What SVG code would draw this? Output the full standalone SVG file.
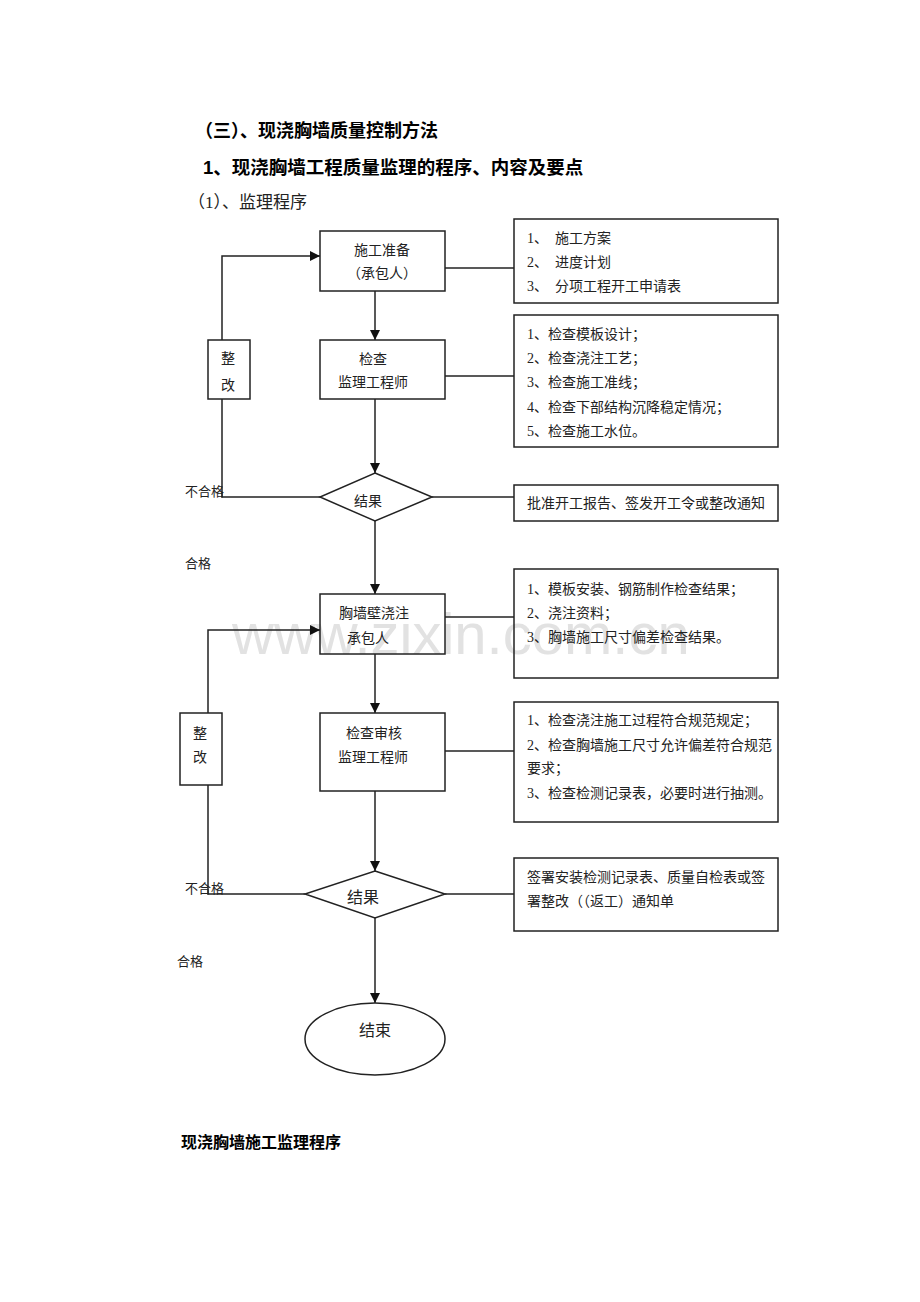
<svg xmlns="http://www.w3.org/2000/svg" width="920" height="1302" viewBox="0 0 920 1302">
<style>
.t{font-family:"Liberation Serif","Noto Sans CJK SC",serif;font-size:14px;fill:#222}
.s13{font-size:13px}
.s16{font-size:16px}
.s17{font-size:17px}
.h{font-family:"Liberation Sans","Noto Sans CJK SC",sans-serif;font-weight:bold;fill:#000}
.b{fill:none;stroke:#222;stroke-width:1.5}
.c{fill:none;stroke:#222;stroke-width:1.5}
.wm{font-family:"Liberation Sans","DejaVu Sans",sans-serif;font-size:58px;fill:#e2e2e2}
</style>
<defs>
<marker id="ar" viewBox="0 0 10 10" refX="10" refY="5" markerWidth="10" markerHeight="10" markerUnits="userSpaceOnUse" orient="auto">
<path d="M0,0 L10,5 L0,10 z" fill="#111"/>
</marker>
</defs>
<rect width="920" height="1302" fill="#fff"/>
<text class="wm" x="232" y="654">www.zixin.com.cn</text>
<text class="h" x="195" y="137" style="font-size:18px">（三）、现浇胸墙质量控制方法</text>
<text class="h" x="203" y="174" style="font-size:18.5px">1、现浇胸墙工程质量监理的程序、内容及要点</text>
<text class="t s17" x="188" y="208">（1）、监理程序</text>

<g id="connectors">
<path class="c" d="M375,291 V340" marker-end="url(#ar)"/>
<path class="c" d="M375,399 V473" marker-end="url(#ar)"/>
<path class="c" d="M375,521 V594" marker-end="url(#ar)"/>
<path class="c" d="M375,654 V713" marker-end="url(#ar)"/>
<path class="c" d="M375,791 V871" marker-end="url(#ar)"/>
<path class="c" d="M375,918 V1003" marker-end="url(#ar)"/>
<path class="c" d="M222,340 V256 H320" marker-end="url(#ar)"/>
<path class="c" d="M222,399 V497 H320"/>
<path class="c" d="M208,713 V630 H320" marker-end="url(#ar)"/>
<path class="c" d="M208,785 V894 H305"/>
<path class="c" d="M445,268 H514"/>
<path class="c" d="M445,376 H514"/>
<path class="c" d="M432,497 H514"/>
<path class="c" d="M445,617 H514"/>
<path class="c" d="M445,751 H514"/>
<path class="c" d="M445,894 H514"/>
</g>

<g id="n_prep">
<rect class="b" x="320" y="231" width="125" height="60"/>
<text class="t" x="382" y="255" text-anchor="middle">施工准备</text>
<text class="t" x="382" y="278" text-anchor="middle">（承包人）</text>
</g>
<g id="n_check1">
<rect class="b" x="320" y="340" width="125" height="59"/>
<text class="t" x="373" y="364" text-anchor="middle">检查</text>
<text class="t" x="373" y="387" text-anchor="middle">监理工程师</text>
</g>
<g id="n_fix1">
<rect class="b" x="208" y="340" width="42" height="59"/>
<text class="t" x="228" y="363" text-anchor="middle">整</text>
<text class="t" x="228" y="390" text-anchor="middle">改</text>
</g>
<g id="n_r1">
<rect class="b" x="514" y="219" width="264" height="84"/>
<text class="t" x="527" y="243">1、</text><text class="t" x="555" y="243">施工方案</text>
<text class="t" x="527" y="267">2、</text><text class="t" x="555" y="267">进度计划</text>
<text class="t" x="527" y="291">3、</text><text class="t" x="555" y="291">分项工程开工申请表</text>
</g>
<g id="n_r2">
<rect class="b" x="514" y="315" width="264" height="132"/>
<text class="t" x="527" y="339">1、检查模板设计；</text>
<text class="t" x="527" y="363">2、检查浇注工艺；</text>
<text class="t" x="527" y="387">3、检查施工准线；</text>
<text class="t" x="527" y="412">4、检查下部结构沉降稳定情况；</text>
<text class="t" x="527" y="436">5、检查施工水位。</text>
</g>
<g id="n_dec1">
<polygon class="b" points="375,473 432,497 375,521 320,497"/>
<text class="t" x="368" y="506" text-anchor="middle">结果</text>
</g>
<g id="n_r3">
<rect class="b" x="514" y="485" width="264" height="36"/>
<text class="t" x="527" y="508">批准开工报告、签发开工令或整改通知</text>
</g>
<g id="l_fail1"><text class="t s13" x="185" y="496">不合格</text></g>
<g id="l_pass1"><text class="t s13" x="185" y="568">合格</text></g>

<g id="n_pour">
<rect class="b" x="320" y="594" width="125" height="60"/>
<text class="t" x="339" y="618">胸墙壁浇注</text>
<text class="t" x="347" y="643">承包人</text>
</g>
<g id="n_r4">
<rect class="b" x="514" y="569" width="264" height="109"/>
<text class="t" x="527" y="594">1、模板安装、钢筋制作检查结果；</text>
<text class="t" x="527" y="618">2、浇注资料；</text>
<text class="t" x="527" y="642">3、胸墙施工尺寸偏差检查结果。</text>
</g>
<g id="n_fix2">
<rect class="b" x="180" y="713" width="42" height="72"/>
<text class="t" x="200" y="738" text-anchor="middle">整</text>
<text class="t" x="200" y="762" text-anchor="middle">改</text>
</g>
<g id="n_check2">
<rect class="b" x="320" y="713" width="125" height="78"/>
<text class="t" x="346" y="738">检查审核</text>
<text class="t" x="338" y="762">监理工程师</text>
</g>
<g id="n_r5">
<rect class="b" x="514" y="702" width="264" height="120"/>
<text class="t" x="527" y="725">1、检查浇注施工过程符合规范规定；</text>
<text class="t" x="527" y="750">2、检查胸墙施工尺寸允许偏差符合规范</text>
<text class="t" x="527" y="773">要求；</text>
<text class="t" x="527" y="798">3、检查检测记录表，必要时进行抽测。</text>
</g>
<g id="n_dec2">
<polygon class="b" points="375,871 445,894 375,918 305,894"/>
<text class="t s16" x="363" y="903" text-anchor="middle">结果</text>
</g>
<g id="n_r6">
<rect class="b" x="514" y="858" width="264" height="73"/>
<text class="t" x="527" y="882">签署安装检测记录表、质量自检表或签</text>
<text class="t" x="527" y="906">署整改（（返工）通知单</text>
</g>
<g id="l_fail2"><text class="t s13" x="185" y="893">不合格</text></g>
<g id="l_pass2"><text class="t s13" x="177" y="966">合格</text></g>
<g id="n_end">
<ellipse class="b" cx="375" cy="1039" rx="70" ry="36"/>
<text class="t s16" x="375" y="1036" text-anchor="middle">结束</text>
</g>
<text class="h" x="181" y="1148" style="font-size:16px">现浇胸墙施工监理程序</text>
</svg>
